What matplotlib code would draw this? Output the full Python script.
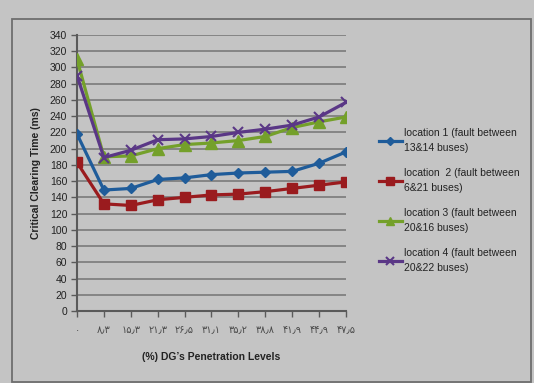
import matplotlib
matplotlib.use("Agg")
from matplotlib import pyplot as plt
from matplotlib.patches import Rectangle

# penetration levels (Persian digits, as printed on the axis)
levels = ['۰', '۸٫۳', '۱۵٫۳', '۲۱٫۳', '۲۶٫۵', '۳۱٫۱', '۳۵٫۲', '۳۸٫۸', '۴۱٫۹', '۴۴٫۹', '۴۷٫۵']

loc1 = [218, 149, 151, 162, 164, 168, 170, 171, 172, 182, 196]
loc2 = [183, 132, 130, 137, 140, 143, 144, 147, 151, 155, 159]
loc3 = [310, 190, 191, 200, 205, 207, 210, 215, 226, 233, 239]
loc4 = [290, 189, 198, 211, 212, 215, 220, 224, 229, 239, 257]

names = ['location 1 (fault between\n13&14 buses)',
         'location  2 (fault between\n6&21 buses)',
         'location 3 (fault between\n20&16 buses)',
         'location 4 (fault between\n20&22 buses)']

bg = '#c4c4c4'
fig = plt.figure(figsize=(5.34, 3.83), dpi=100, facecolor=bg)
ax = fig.add_axes([0.1442, 0.188, 0.5037, 0.7206], facecolor=bg)

# chart border
fig.patches.append(Rectangle((0.0225, 0.003), 0.972, 0.947, transform=fig.transFigure,
                             fill=False, edgecolor='#6e6e6e', lw=1.3))

x = list(range(len(levels)))
ax.plot(x, loc1, color='#1f5c9a', lw=2.3, marker='D', ms=5.5, label=names[0], zorder=3)
ax.plot(x, loc2, color='#9a1b1e', lw=2.3, marker='s', ms=7, label=names[1], zorder=3)
ax.plot(x, loc3, color='#74a02a', lw=2.3, marker='^', ms=8, label=names[2], zorder=3)
ax.plot(x, loc4, color='#5a3786', lw=2.3, marker='x', ms=7, mew=1.5, label=names[3], zorder=4)

ax.set_xlim(0, 10)
ax.set_ylim(0, 340)
ax.set_yticks(range(0, 341, 20))
ax.set_xticks(x)
ax.set_xticklabels(levels, fontsize=7, color='#4a4a4a', family='DejaVu Sans')
for t in ax.get_yticklabels():
    t.set_fontsize(7.5)
    t.set_family('Liberation Sans')
    t.set_color('#222222')

ax.grid(axis='y', color='#808080', lw=1.3)
ax.set_axisbelow(True)
for s in ['top', 'right']:
    ax.spines[s].set_visible(False)
for s in ['left', 'bottom']:
    ax.spines[s].set_color('#5a5a5a')
    ax.spines[s].set_linewidth(1.5)
ax.tick_params(axis='both', direction='out', length=4, color='#5a5a5a', width=1, pad=3)
ax.tick_params(axis='x', pad=6)

ax.set_ylabel('Critical Clearing Time (ms)', fontsize=7.5, fontweight='bold',
              family='Liberation Sans', color='#222222', labelpad=6)
ax.set_xlabel('(%) DG’s Penetration Levels', fontsize=7.5, fontweight='bold',
              family='Liberation Sans', color='#222222', labelpad=12)

leg = fig.legend(loc='upper left', bbox_to_anchor=(0.692, 0.69), frameon=False,
                 prop={'family': 'Liberation Sans', 'size': 7.5},
                 handlelength=2.2, handletextpad=0.2, labelspacing=1.5,
                 markerscale=0.75)
for t in leg.get_texts():
    t.set_color('#222222')
    t.set_linespacing(1.55)

fig.savefig('out.png', dpi=100, facecolor=bg)
